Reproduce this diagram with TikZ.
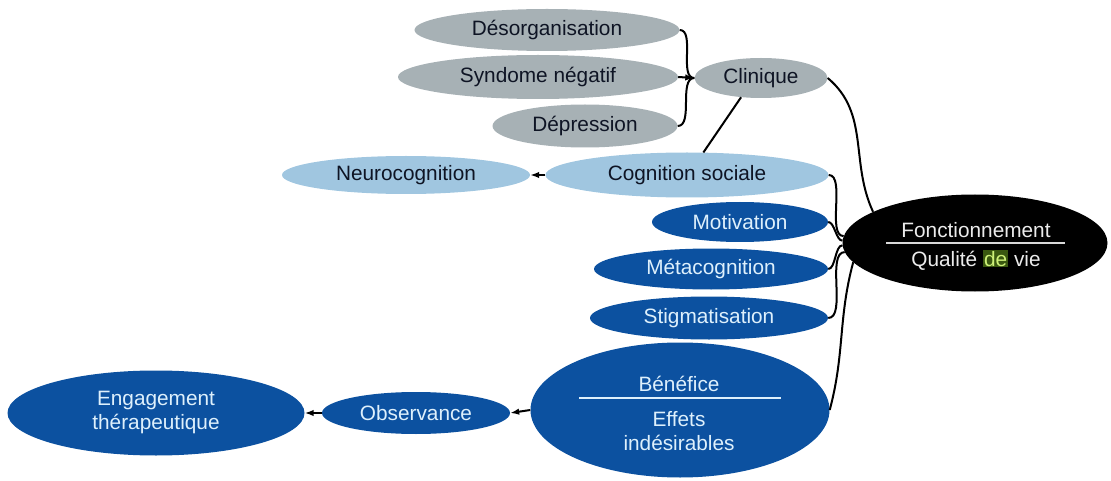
\documentclass[tikz,border=0pt]{standalone}
\usepackage{fontspec}
\setmainfont{Liberation Sans}
\usepackage{tikz}
\usetikzlibrary{arrows.meta}
\usetikzlibrary{shapes.geometric}
\usepackage{xcolor}

\definecolor{nodegrey}{RGB}{167,177,181}
\definecolor{nodelight}{RGB}{160,198,224}
\definecolor{nodedark}{RGB}{12,81,160}
\definecolor{txtdark}{RGB}{14,20,36}
\definecolor{txtlight}{RGB}{222,240,252}
\definecolor{hlbg}{RGB}{58,88,16}
\definecolor{hltxt}{RGB}{205,240,120}

\newcommand{\hlde}[1]{{\setlength{\fboxsep}{1pt}\colorbox{hlbg}{\textcolor{hltxt}{#1}}}}

\begin{document}
\begin{tikzpicture}[x=1pt,y=1pt]
  \tikzset{bubble/.style = {shape=ellipse,inner sep=0pt,align=center,font=\fontsize{20.8}{24}\selectfont}}
  \tikzset{greybubble/.style = {bubble,fill=nodegrey,text=txtdark}}
  \tikzset{lightbubble/.style = {bubble,fill=nodelight,text=txtdark}}
  \tikzset{darkbubble/.style = {bubble,fill=nodedark,text=txtlight}}
  \tikzset{blackbubble/.style = {bubble,fill=black}}
  \tikzset{inlabel/.style = {inner sep=0pt,anchor=base,font=\fontsize{20.8}{24}\selectfont}}
  \tikzset{link/.style = {line width=2pt}}
  \tikzset{%
  tipA/.tip={Latex[length=9pt,width=6.5pt]},
}

  \useasboundingbox (0,0) rectangle (1111,-481);

	\node[greybubble,minimum width=265pt,minimum height=42pt] (deso) at (547,-30) {Désorganisation};
	\node[greybubble,minimum width=280pt,minimum height=44pt] (synd) at (538,-77) {Syndome négatif};
	\node[greybubble,minimum width=185pt,minimum height=43pt] (depr) at (585,-126) {Dépression};
	\node[greybubble,minimum width=133pt,minimum height=40pt] (clin) at (761,-78) {Clinique};

	\node[lightbubble,minimum width=248pt,minimum height=38pt] (neur) at (406,-175) {Neurocognition};
	\node[lightbubble,minimum width=283pt,minimum height=45pt] (cogs) at (687,-175) {Cognition sociale};

	\node[darkbubble,minimum width=176pt,minimum height=40pt] (moti) at (740,-222) {Motivation};
	\node[darkbubble,minimum width=234pt,minimum height=41pt] (meta) at (711,-269) {Métacognition};
	\node[darkbubble,minimum width=238pt,minimum height=43pt] (stig) at (709,-318) {Stigmatisation};

	\node[darkbubble,minimum width=299pt,minimum height=135pt] (bene) at (680,-410) {};
	\node[inlabel,text=txtlight] (beneA) at (679,-391) {Bénéfice};
	\node[inlabel,text=txtlight] (beneB) at (679,-426) {Effets};
	\node[inlabel,text=txtlight] (beneC) at (679,-450) {indésirables};
	\draw[line width=1.3pt,txtlight] ([xshift=-101pt,yshift=12pt]bene.center) -- ([xshift=101pt,yshift=12pt]bene.center);

	\node[darkbubble,minimum width=188pt,minimum height=42pt] (obse) at (416,-413) {Observance};
	\node[darkbubble,minimum width=297pt,minimum height=85pt] (enga) at (156,-413) {Engagement\\thérapeutique};

	\node[blackbubble,minimum width=265pt,minimum height=97pt] (fonc) at (975,-243) {};
	\node[inlabel,text=white!92!black] (foncA) at (976,-237) {Fonctionnement};
	\node[inlabel,text=white!92!black] (foncB) at (976,-266) {Qualité \hlde{de} vie};
	\draw[line width=1.3pt,white!85!black] ([xshift=-89pt]fonc.center) -- ([xshift=90pt]fonc.center);

    % brace into Clinique
    \foreach \from in {deso,depr}
    \path[link](\from.east) edge[out=0,in=180,looseness=0.8] (clin.west);
    \path[link,-tipA](synd.east) edge (clin.west);

    \draw[link] (clin.224) -- (cogs.54);

    % everything goes to Fonctionnement
    \draw[link] (clin.east) to[out=-40,in=115] (fonc.163);
    \foreach \from/\ang in {cogs/177,moti/179,meta/181,stig/184}
    \draw[link] (\from.east) to[out=0,in=180,looseness=0.7] (fonc.\ang);
    \draw[link] (bene.east) to[out=75,in=-105] (fonc.189);

    \foreach \from/\to in {cogs/neur,bene/obse,obse/enga}
    \path[link,-tipA](\from.west) edge (\to.east);

\end{tikzpicture}
\end{document}
